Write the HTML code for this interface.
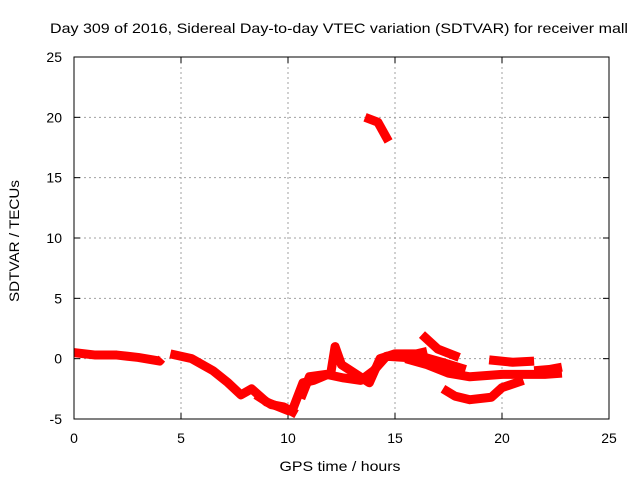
<!DOCTYPE html>
<html><head><meta charset="utf-8"><style>
body{margin:0;background:#fff;font-family:"Liberation Sans",sans-serif}
svg text{font-family:"Liberation Sans",sans-serif;font-size:14px;fill:#000}
</style></head><body>
<svg width="640" height="480" xmlns="http://www.w3.org/2000/svg">
<rect width="640" height="480" fill="#fff"/>
<text x="339" y="33" text-anchor="middle" textLength="578" lengthAdjust="spacingAndGlyphs">Day 309 of 2016, Sidereal Day-to-day VTEC variation (SDTVAR) for receiver mall</text>
<g id="grid"></g>
<g id="ticks"></g>
<g id="series"></g>
<rect x="74" y="57" width="535" height="362" fill="none" stroke="#000" stroke-width="1"/>
<text x="340" y="471" text-anchor="middle" textLength="121" lengthAdjust="spacingAndGlyphs">GPS time / hours</text>
<text transform="translate(19,241) rotate(-90)" text-anchor="middle" textLength="122" lengthAdjust="spacingAndGlyphs">SDTVAR / TECUs</text>
</svg>
<script>
const xTicks=[0,5,10,15,20,25];
const yTicks=[-5,0,5,10,15,20,25];
const segA_h=[0,1,2,3,4,4.1];
const segA_v=[0.5,0.3,0.3,0.1,-0.2,0];
const segB_h=[4.5,5.5,6.5,7.2,7.8,8.3,9,10,10.3];
const segB_v=[0.4,0,-1,-2,-3,-2.5,-3.6,-4.3,-4.4];
const segB2_h=[8.5,9.2,9.8,10.4];
const segB2_v=[-3.0,-3.8,-4.0,-4.6];
const segC_h=[10.2,10.7,11.2,12,12.2,12.5,13.2,13.8,14.3,15,16,16.5];
const segC_v=[-4.3,-2,-1.8,-1.2,1.0,-0.5,-1.3,-2,0,0.4,0.4,0.6];
const segC2_h=[10.6,11,11.8,12.6,13.4,14,14.6,15.5];
const segC2_v=[-3.3,-1.5,-1.3,-1.6,-1.8,-1.0,0.2,0.1];
const segD_h=[16.26,17,18];
const segD_v=[2.0,0.8,0.1];
const segE_h=[15.5,16.5,17.5,18.5,20,21,22,22.8];
const segE_v=[0,-0.5,-1.2,-1.5,-1.3,-1.3,-1.3,-1.2];
const segE2_h=[15.2,16.2,17.2,18.3];
const segE2_v=[0.3,0.2,-0.3,-0.9];
const segF_h=[17.24,17.8,18.5,19.5,20,21];
const segF_v=[-2.5,-3.1,-3.4,-3.2,-2.4,-1.8];
const segG_h=[19.4,20.5,21.5];
const segG_v=[-0.1,-0.3,-0.2];
const segH_h=[21.5,22.2,22.8];
const segH_v=[-1,-0.9,-0.7];
const segI_h=[13.6,14.2,14.7];
const segI_v=[20,19.6,18];
const segs=[[segA_h,segA_v],[segB_h,segB_v],[segB2_h,segB2_v],[segC_h,segC_v],[segC2_h,segC2_v],[segD_h,segD_v],[segE_h,segE_v],[segE2_h,segE2_v],[segF_h,segF_v],[segG_h,segG_v],[segH_h,segH_v],[segI_h,segI_v]];
const X=h=>74+h*535/25, Y=v=>419-(v+5)*362/30;
const NS="http://www.w3.org/2000/svg";
const grid=document.getElementById('grid'),ticks=document.getElementById('ticks'),ser=document.getElementById('series');
function mk(t,a,p){const e=document.createElementNS(NS,t);for(const k in a)e.setAttribute(k,a[k]);p.appendChild(e);return e;}
xTicks.forEach(t=>{
 if(t>0&&t<25){const g=mk('line',{x1:X(t),x2:X(t),y1:57,y2:419,stroke:'#a0a0a0','stroke-dasharray':'2,3'},grid);
 
 }
 mk('line',{x1:X(t),x2:X(t),y1:419,y2:413,stroke:'#000'},ticks);
 mk('line',{x1:X(t),x2:X(t),y1:57,y2:63,stroke:'#000'},ticks);
 const l=mk('text',{x:X(t),y:443,'text-anchor':'middle'},ticks);l.textContent=t;
 
 
});
yTicks.forEach(t=>{
 if(t>-5&&t<25){const g=mk('line',{x1:74,x2:609,y1:Y(t),y2:Y(t),stroke:'#a0a0a0','stroke-dasharray':'2,3'},grid);
 
 }
 mk('line',{x1:74,x2:80,y1:Y(t),y2:Y(t),stroke:'#000'},ticks);
 mk('line',{x1:603,x2:609,y1:Y(t),y2:Y(t),stroke:'#000'},ticks);
 const l=mk('text',{x:62,y:Y(t)+5,'text-anchor':'end'},ticks);l.textContent=t;
 
 
});
segs.forEach(s=>{
 const pts=s[0].map((h,i)=>X(h)+','+Y(s[1][i])).join(' ');
 const p=mk('polyline',{points:pts,fill:'none',stroke:'#ff0000','stroke-width':9,'stroke-linejoin':'round'},ser);
 
 
});
</script>
</body></html>
